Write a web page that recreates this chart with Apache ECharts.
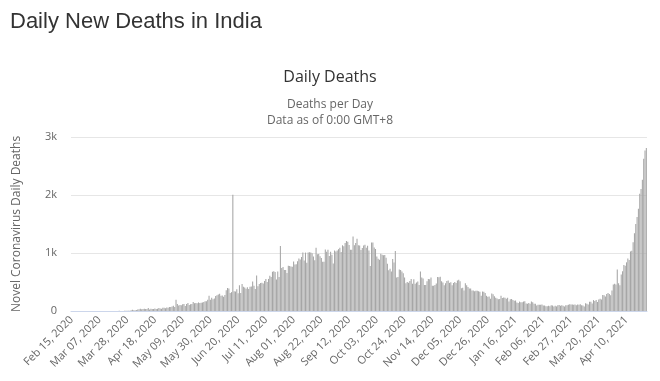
<!DOCTYPE html>
<html>
<head>
<meta charset="utf-8">
<script src="https://cdn.jsdelivr.net/npm/echarts@6/dist/echarts.min.js"></script>
<style>
html,body{margin:0;padding:0;background:#fff;}
#chart{width:660px;height:381px;}
</style>
</head>
<body>
<div id="chart"></div>
<script>
// Daily new deaths, India, Feb 15 2020 .. Apr 25 2021
var startDate = '2020-02-15';
var feb2020 = [0,0,0,0,0,0,0,0,0,0,0,0,0,0,0];
var mar2020 = [0,0,0,0,0,0,0,0,0,0,0,1,1,0,0,0,1,0,1,1,0,3,2,2,1,4,3,5,4,6,15];
var apr2020 = [20,14,13,16,27,32,38,30,33,40,35,34,51,25,39,34,33,43,36,37,51,41,38,57,54,48,60,58,69,69];
var may2020 = [77,92,68,195,122,95,104,97,115,119,86,122,136,103,117,121,157,134,140,132,148,137,142,146,154,170,170,194,265,193,230];
var jun2020 = [204,217,259,273,286,297,261,266,246,274,357,396,386,311,325,2003,341,336,375,306,445,312,465,418,407,384,410,380,418,424];
var jul2020 = [507,434,379,613,425,467,482,487,475,519,551,500,553,606,587,675,687,671,543,681,587,1120,740,757,705,708,654,779,775,768,764];
var aug2020 = [853,803,806,857,904,886,933,1007,871,1007,834,1007,1013,1007,996,941,876,1092,977,983,944,912,847,848,1059,1023,1057,948,1021,971,819];
var sep2020 = [1045,1026,1045,1066,1089,1016,1133,1115,1172,1209,1192,1136,1054,1054,1283,1132,1174,1247,1133,1130,1053,1085,1129,1141,1089,1124,1043,776,1179,1181];
var oct2020 = [1095,1069,940,903,884,986,971,963,964,918,816,703,730,680,895,837,1033,579,587,717,706,680,650,578,480,501,488,517,551,470,547];
var nov2020 = [470,490,508,448,680,577,560,449,448,512,550,547,578,435,435,447,474,586,584,590,511,491,443,480,518,524,485,497,443,482];
var dec2020 = [501,482,524,540,512,391,402,355,480,442,412,388,390,354,355,339,349,347,341,333,264,336,333,309,262,247,251,213,300,287,254];
var jan2021 = [228,214,201,207,264,222,234,228,212,228,163,201,206,191,175,181,145,137,162,152,150,163,167,131,127,137,123,164,151,127,127];
var feb2021 = [94,107,107,108,110,96,95,84,80,91,82,100,94,78,89,79,100,102,89,101,90,78,100,101,109,118,113,112];
var mar2021 = [106,110,98,113,108,117,99,96,77,133,126,114,158,161,131,188,171,188,154,197,212,199,275,271,251,295,312,291,271,354,459];
var apr2021 = [469,459,714,478,446,630,685,794,780,839,904,879,1027,1038,1185,1341,1501,1620,1761,2023,2104,2263,2624,2767,2812];
var yTicks = [0, 1000, 2000, 3000];
var yTickLabels = ['0', '1k', '2k', '3k'];

var deaths = [].concat(feb2020, mar2020, apr2020, may2020, jun2020, jul2020, aug2020,
  sep2020, oct2020, nov2020, dec2020, jan2021, feb2021, mar2021, apr2021);

var monthNames = ['Jan','Feb','Mar','Apr','May','Jun','Jul','Aug','Sep','Oct','Nov','Dec'];
var categories = [];
(function(){
  var p = startDate.split('-');
  var d = new Date(Date.UTC(+p[0], +p[1]-1, +p[2]));
  for (var i = 0; i < deaths.length; i++) {
    var dd = d.getUTCDate();
    categories.push(monthNames[d.getUTCMonth()] + ' ' + (dd < 10 ? '0' + dd : dd) + ', ' + d.getUTCFullYear());
    d.setUTCDate(d.getUTCDate() + 1);
  }
})();

var FONT = '"Open Sans", sans-serif';
var chart = echarts.init(document.getElementById('chart'), null, {renderer: 'canvas'});
chart.setOption({
  animation: false,
  backgroundColor: '#ffffff',
  title: [
    {text: 'Daily New Deaths in India', left: 5, top: 6,
     textStyle: {fontFamily: '"Liberation Sans", Arial, sans-serif', fontSize: 22, fontWeight: 'normal', color: '#333333'}},
    {text: 'Daily Deaths', left: 'center', top: 64,
     textStyle: {fontFamily: FONT, fontSize: 16, fontWeight: 'normal', color: '#333333'}},
    {text: 'Deaths per Day', left: 'center', top: 94,
     textStyle: {fontFamily: FONT, fontSize: 12, fontWeight: 'normal', color: '#666666'}},
    {text: 'Data as of 0:00 GMT+8', left: 'center', top: 110,
     textStyle: {fontFamily: FONT, fontSize: 12, fontWeight: 'normal', color: '#666666'}}
  ],
  grid: {left: 71, right: 13, top: 137, bottom: 70, containLabel: false},
  xAxis: {
    type: 'category',
    data: categories,
    boundaryGap: true,
    axisLine: {show: true, lineStyle: {color: '#ccd6eb', width: 1}},
    axisTick: {show: false},
    axisLabel: {interval: 20, rotate: 45, color: '#666666', fontFamily: FONT, fontSize: 11, margin: 7}
  },
  yAxis: {
    type: 'value',
    min: 0, max: 3000, interval: 1000,
    name: 'Novel Coronavirus Daily Deaths',
    nameLocation: 'middle',
    nameGap: 48,
    nameRotate: 90,
    nameTextStyle: {color: '#666666', fontFamily: FONT, fontSize: 12},
    axisLine: {show: false},
    axisTick: {show: false},
    splitLine: {lineStyle: {color: '#e6e6e6', width: 1}},
    axisLabel: {
      color: '#666666', fontFamily: FONT, fontSize: 11, margin: 14,
      formatter: function(v){ var i = yTicks.indexOf(v); return i >= 0 ? yTickLabels[i] : ''; }
    }
  },
  series: [{
    type: 'bar',
    data: deaths,
    barCategoryGap: '20%',
    itemStyle: {color: '#a6a6a6'}
  }]
});
</script>
</body>
</html>
